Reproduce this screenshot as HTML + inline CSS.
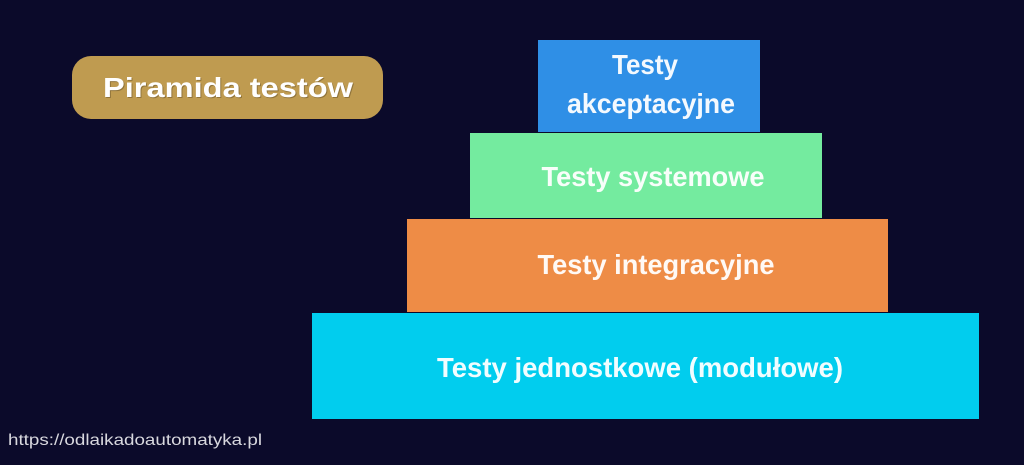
<!DOCTYPE html>
<html><head><meta charset="utf-8"><style>
html,body{margin:0;padding:0;background:#0b0a2a;width:1024px;height:465px;overflow:hidden}
</style></head><body>
<svg width="1024" height="465" xmlns="http://www.w3.org/2000/svg" style="display:block">
<rect width="1024" height="465" fill="#0b0a2a"/>
<rect x="72" y="56" width="311" height="63" rx="19" fill="#bf9b50"/>
<text x="229" y="98" text-anchor="middle" font-family="Liberation Sans, sans-serif" font-weight="bold" font-size="28" fill="#3a2e16" opacity="0.35" textLength="250" lengthAdjust="spacingAndGlyphs">Piramida testów</text>
<text x="228" y="97" text-anchor="middle" font-family="Liberation Sans, sans-serif" font-weight="bold" font-size="28" fill="#fff" textLength="250" lengthAdjust="spacingAndGlyphs">Piramida testów</text>
<rect x="538" y="40" width="222" height="92" fill="#2f8fe6"/>
<rect x="470" y="133" width="352" height="85" fill="#74eb9f"/>
<rect x="407" y="219" width="481" height="93" fill="#ee8c46"/>
<rect x="312" y="313" width="667" height="106" fill="#01cdee"/>
<g font-family="Liberation Sans, sans-serif" font-size="28" font-weight="bold" fill="#fff" fill-opacity="0.95" text-anchor="middle">
<text x="645" y="74" textLength="66" lengthAdjust="spacingAndGlyphs">Testy</text>
<text x="651" y="113" textLength="168" lengthAdjust="spacingAndGlyphs">akceptacyjne</text>
<text x="653" y="186" textLength="223" lengthAdjust="spacingAndGlyphs">Testy systemowe</text>
<text x="656" y="274" textLength="237" lengthAdjust="spacingAndGlyphs">Testy integracyjne</text>
<text x="640" y="377" textLength="406" lengthAdjust="spacingAndGlyphs">Testy jednostkowe (modułowe)</text>
</g>
<text x="8" y="445" font-family="Liberation Sans, sans-serif" font-size="16" fill="#d8d8de" textLength="254" lengthAdjust="spacingAndGlyphs">https://odlaikadoautomatyka.pl</text>
</svg>
</body></html>
